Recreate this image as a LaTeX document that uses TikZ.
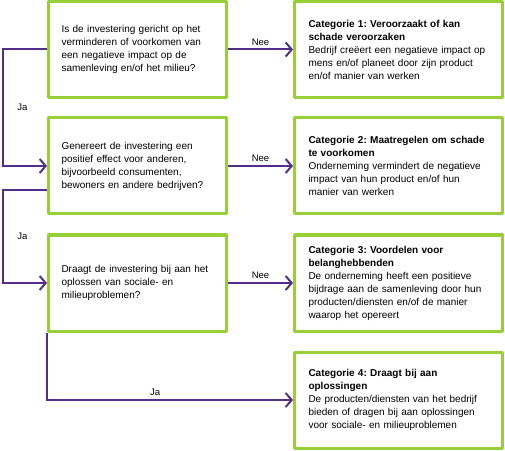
\documentclass[tikz,border=0pt]{standalone}
\usepackage{fontspec}
\setmainfont{Liberation Sans}
\usetikzlibrary{arrows.meta}

\definecolor{boxgreen}{RGB}{151,207,55}
\definecolor{flowpurple}{RGB}{84,45,140}
\frenchspacing

\begin{document}
\begin{tikzpicture}[x=1pt,y=1pt,>={Straight Barb[length=6pt,width=14pt]},line cap=round,line join=round,
    question/.style={draw=boxgreen,line width=3pt,minimum width=178pt,minimum height=96pt,
      inner xsep=13pt,text width=152pt,align=left,font=\fontsize{10}{13}\selectfont},
    category/.style={draw=boxgreen,line width=3pt,minimum width=208pt,minimum height=96pt,
      inner xsep=14pt,text width=180pt,align=left,font=\fontsize{10}{13}\selectfont},
    flow/.style={->,draw=flowpurple,line width=2pt,line cap=butt,line join=miter},
    answer/.style={font=\fontsize{9.5}{11}\selectfont,text=black}]
  \useasboundingbox (0,0) rectangle (505,450);
  % questions
  \node[question] (q1) at (137.5,400.5) {Is de investering gericht op het\\verminderen of voorkomen van\\een negatieve impact op de\\samenleving en/of het milieu?};
  \node[question] (q2) at (137.5,284) {Genereert de investering een\\positief effect voor anderen,\\bijvoorbeeld consumenten,\\bewoners en andere bedrijven?};
  \node[question] (q3) at (137.5,167) {Draagt de investering bij aan het\\oplossen van sociale- en\\milieuproblemen?};
  % categories
  \node[category] (c1) at (398.5,400.5) {\textbf{Categorie 1: Veroorzaakt of kan}\\\textbf{schade veroorzaken}\\Bedrijf creëert een negatieve impact op\\mens en/of planeet door zijn product\\en/of manier van werken};
  \node[category] (c2) at (398.5,284) {\textbf{Categorie 2: Maatregelen om schade}\\\textbf{te voorkomen}\\Onderneming vermindert de negatieve\\impact van hun product en/of hun\\manier van werken};
  \node[category] (c3) at (398.5,167) {\textbf{Categorie 3: Voordelen voor}\\\textbf{belanghebbenden}\\De onderneming heeft een positieve\\bijdrage aan de samenleving door hun\\producten/diensten en/of de manier\\waarop het opereert};
  \node[category] (c4) at (398.5,50) {\textbf{Categorie 4: Draagt bij aan}\\\textbf{oplossingen}\\De producten/diensten van het bedrijf\\bieden of dragen bij aan oplossingen\\voor sociale- en milieuproblemen};
  % Nee
  \draw[flow] (q1) -- node[answer,above] {Nee} (c1);
  \draw[flow] (q2) -- node[answer,above] {Nee} (c2);
  \draw[flow] (q3) -- node[answer,above] {Nee} (c3);
  % Ja
  \draw[flow] (q1.west) -- ++(-44,0) |- node[answer,pos=0.25,right=10pt] {Ja} (q2.west);
  \draw[flow] ([yshift=-24pt]q2.west) -- ++(-44,0) |- node[answer,pos=0.25,right=10pt] {Ja} (q3.west);
  \draw[flow] (q3.south west) |- node[answer,pos=0.72,above] {Ja} (c4.west);
\end{tikzpicture}
\end{document}
